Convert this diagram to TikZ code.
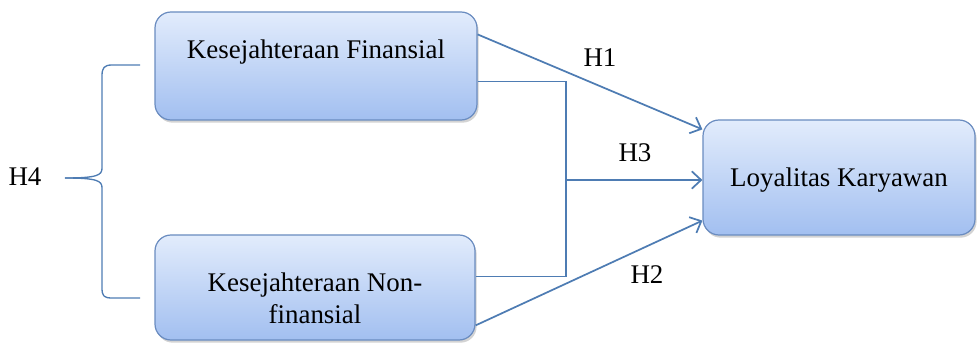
\documentclass[tikz,border=0pt]{standalone}
\usepackage{fontspec}
\setmainfont{Liberation Serif}
\usetikzlibrary{arrows.meta,shadows,calc}
\definecolor{boxtop}{HTML}{E2ECFC}
\definecolor{boxbot}{HTML}{A2BFF0}
\definecolor{boxline}{HTML}{6A8CC0}
\definecolor{arr}{HTML}{4E7CB3}
\tikzset{
  vbox/.style={draw=boxline, line width=0.9pt, rounded corners=12pt, top color=boxtop, bottom color=boxbot,
    drop shadow={opacity=0.35, shadow xshift=1.2pt, shadow yshift=-2pt}, inner sep=0pt},
  vtext/.style={font=\fontsize{20.2}{24}\selectfont, align=center, inner sep=0pt},
  htext/.style={font=\fontsize{20.2}{24}\selectfont, inner sep=0pt},
  conn/.style={draw=arr, line width=1.3pt},
  arrconn/.style={conn, -{Straight Barb[length=7pt, width=13pt, line width=1.3pt]}}
}
\begin{document}
\begin{tikzpicture}[x=0.75pt, y=-0.75pt]
\useasboundingbox (0,0) rectangle (979,349);
\node[vbox, minimum width=241.5pt, minimum height=81pt] (f) at (316,66) {};
\node[vtext] (ft) at (316,52) {Kesejahteraan Finansial};
\node[vbox, minimum width=240pt, minimum height=78.75pt] (n) at (315,287.5) {};
\node[vtext] (nt) at (315,298) {Kesejahteraan Non-\\finansial};
\node[vbox, minimum width=204pt, minimum height=86.25pt] (l) at (839,177.5) {};
\node[vtext] (lt) at (839,180) {Loyalitas Karyawan};
% arrows
\draw[arrconn] ($(f.north east)+(0,23)$) -- ($(l.north west)+(0,10)$);
\draw[arrconn] ($(n.north east)+(0,91)$) -- ($(l.south west)+(0,-15)$);
\coordinate (j) at (566,180);
\draw[conn] ($(f.north east)+(0,70)$) -| (j);
\draw[conn] ($(n.north east)+(0,42)$) -| (j);
\draw[arrconn] (j) -- (l.west |- j);
% labels
\node[htext] (h1) at (600,58) {H1};
\node[htext] (h3) at (635,153) {H3};
\node[htext] (h2) at (647,275) {H2};
\node[htext] (h4) at (25,177) {H4};
% brace
\coordinate (bt) at (140,65);
\coordinate (bb) at (140,298);
\coordinate (bm) at (65,178);
\draw[conn, line width=1pt] (bt) -- (112,65) .. controls (104,65) and (102,68) .. (102,76)
  -- (102,168) .. controls (102,175) and (98,178) .. (bm);
\draw[conn, line width=1pt] (bm) .. controls (98,178) and (102,181) .. (102,188)
  -- (102,288) .. controls (102,296) and (104,298) .. (112,298) -- (bb);
\end{tikzpicture}
\end{document}
